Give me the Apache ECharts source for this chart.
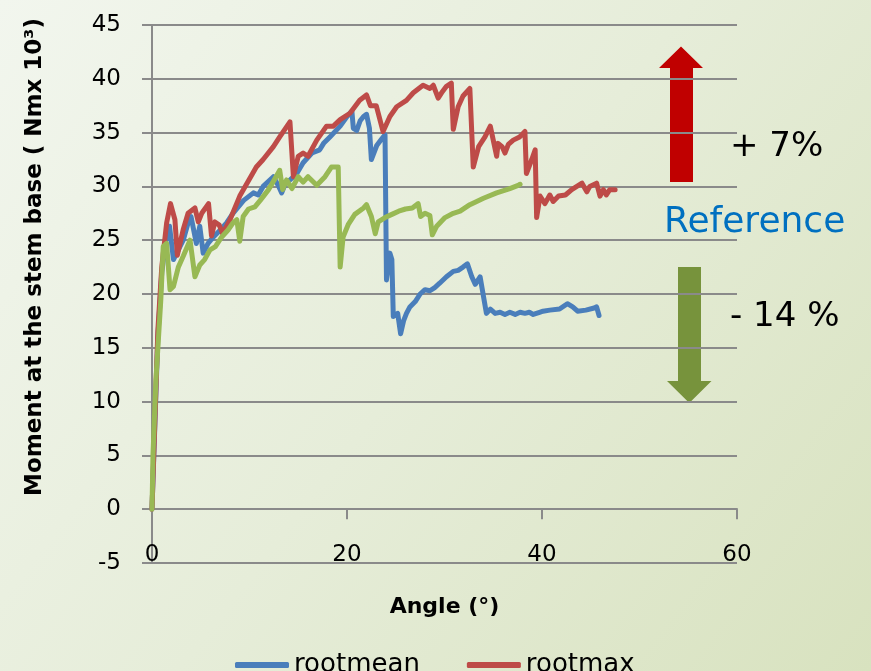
<!DOCTYPE html>
<html>
<head>
<meta charset="utf-8">
<script src="https://cdn.jsdelivr.net/npm/echarts@6/dist/echarts.min.js"></script>
<style>
html,body{margin:0;padding:0;background:#e8eedb;}
#chart{width:871px;height:671px;}
</style>
</head>
<body>
<div id="chart"></div>
<script>
// ---- data (angle in degrees, moment in Nm x 10^3) ----
const seriesNames = ['rootmean', 'rootmax', 'reference'];
const legendNames = ['rootmean', 'rootmax'];
const xTicks = [0, 20, 40, 60];
const yTicks = [-5, 0, 5, 10, 15, 20, 25, 30, 35, 40, 45];

const rootmean = [[0,0],[0.3,8],[0.6,16],[1.0,22],[1.5,25.5],[1.8,26.3],[2.2,23.2],[2.7,24.1],[3.2,25.0],[3.7,26.6],[4.0,27.2],[4.55,24.7],[4.9,26.3],[5.25,23.8],[5.75,24.7],[6.3,25.3],[7.0,25.95],[7.65,26.6],[8.3,27.5],[9.4,28.7],[10.4,29.4],[10.9,29.2],[11.4,30.0],[12.45,30.9],[13.0,30.0],[13.3,29.4],[13.65,30.2],[14.15,30.6],[14.85,31.2],[15.5,32.2],[16.4,33.1],[17.2,33.4],[17.6,34.0],[18.25,34.6],[19.3,35.6],[20.0,36.5],[20.5,37.0],[20.65,35.4],[21.0,35.2],[21.35,36.1],[21.7,36.5],[22.0,36.7],[22.3,35.4],[22.5,32.5],[23.05,33.8],[23.55,34.4],[23.9,34.8],[24.05,21.3],[24.4,23.8],[24.6,23.2],[24.75,17.9],[25.2,18.2],[25.5,16.3],[25.8,17.5],[26.1,18.2],[26.45,18.8],[27.0,19.3],[27.5,20.0],[28.0,20.4],[28.5,20.3],[29.0,20.6],[29.5,21.0],[30.2,21.6],[30.9,22.1],[31.4,22.2],[31.9,22.5],[32.35,22.8],[32.8,21.6],[33.15,20.9],[33.65,21.6],[34.3,18.2],[34.7,18.6],[35.2,18.2],[35.7,18.3],[36.2,18.1],[36.7,18.3],[37.25,18.1],[37.75,18.3],[38.25,18.2],[38.7,18.3],[39.1,18.1],[39.75,18.3],[40.1,18.4],[40.8,18.5],[41.8,18.6],[42.6,19.1],[43.15,18.8],[43.65,18.4],[44.5,18.5],[45.35,18.7],[45.6,18.8],[45.85,18.0]];

const rootmax = [[0,0],[0.3,8.3],[0.6,16.6],[1.0,22.5],[1.5,26.6],[1.9,28.4],[2.35,26.9],[2.6,23.6],[3.2,26.0],[3.7,27.5],[4.4,28.0],[4.75,26.7],[5.1,27.5],[5.8,28.4],[6.1,25.4],[6.45,26.7],[6.9,26.4],[7.25,25.6],[8.0,26.9],[9.0,29.1],[10.7,31.8],[11.4,32.5],[12.45,33.7],[13.1,34.6],[14.15,36.0],[14.5,30.9],[15.0,32.8],[15.5,33.1],[16.0,32.8],[16.9,34.3],[17.9,35.6],[18.6,35.6],[19.3,36.2],[20.3,36.8],[21.3,38.0],[22.0,38.5],[22.4,37.5],[23.0,37.5],[23.7,35.1],[24.4,36.5],[25.1,37.4],[26.1,38.0],[26.8,38.7],[27.8,39.4],[28.5,39.1],[28.85,39.4],[29.35,38.2],[29.7,38.7],[30.2,39.3],[30.7,39.6],[30.9,35.3],[31.4,37.4],[31.9,38.4],[32.6,39.1],[32.95,31.8],[33.5,33.7],[34.15,34.6],[34.7,35.6],[35.0,34.3],[35.35,32.8],[35.5,34.0],[35.9,33.7],[36.2,33.1],[36.55,33.9],[37.05,34.3],[37.7,34.6],[38.25,35.1],[38.4,31.2],[38.95,32.5],[39.3,33.4],[39.45,27.1],[39.8,29.1],[40.3,28.4],[40.8,29.2],[41.15,28.6],[41.7,29.1],[42.4,29.2],[43.05,29.7],[44.1,30.3],[44.6,29.5],[44.9,30.0],[45.6,30.3],[45.95,29.1],[46.3,29.7],[46.6,29.2],[46.95,29.7],[47.5,29.7]];

const reference = [[0,0],[0.1,5],[0.4,12],[0.9,19.4],[1.15,24.4],[1.5,24.7],[1.85,20.4],[2.2,20.7],[2.7,22.5],[3.2,23.5],[3.9,25.0],[4.4,21.6],[4.9,22.7],[5.4,23.2],[5.95,24.1],[6.5,24.4],[7.15,25.3],[7.8,25.95],[8.3,26.6],[8.7,26.9],[9.0,24.9],[9.35,27.2],[9.9,27.9],[10.55,28.1],[11.1,28.7],[11.95,29.7],[12.6,30.7],[13.1,31.5],[13.4,29.7],[13.8,30.6],[14.35,29.8],[15.0,30.9],[15.5,30.4],[16.0,30.9],[16.9,30.1],[17.75,30.9],[18.4,31.8],[19.1,31.8],[19.3,22.5],[19.6,25.3],[20.15,26.5],[20.8,27.4],[21.7,28.0],[22.0,28.3],[22.5,27.2],[22.9,25.6],[23.2,26.7],[23.9,27.1],[24.6,27.4],[25.3,27.7],[26.0,27.9],[26.7,28.0],[27.3,28.4],[27.55,27.2],[28.0,27.5],[28.5,27.3],[28.75,25.5],[29.2,26.3],[30.05,27.1],[30.9,27.5],[31.6,27.7],[32.6,28.3],[34.0,28.9],[35.35,29.4],[36.7,29.8],[37.55,30.1],[37.75,30.2]];

const colors = ['#4A7EBB', '#BE4B48', '#98B954'];
const FONT = 'DejaVu Sans';

const chart = echarts.init(document.getElementById('chart'), null, {renderer: 'canvas'});
const gridColor = '#8a8a8a';

const option = {
  animation: false,
  backgroundColor: {
    type: 'linear', x: 0, y: 0, x2: 1, y2: 1,
    colorStops: [
      {offset: 0, color: '#f2f6ee'},
      {offset: 0.5, color: '#e6edd9'},
      {offset: 1, color: '#d8e2bf'}
    ]
  },
  textStyle: {fontFamily: FONT},
  grid: {left: 152, right: 134, top: 25, bottom: 108, containLabel: false, outerBoundsMode: 'none'},
  legend: {
    data: legendNames,
    left: 230, top: 647,
    icon: 'roundRect',
    itemWidth: 54, itemHeight: 6,
    itemGap: 47,
    textStyle: {fontFamily: FONT, fontSize: 26, color: '#000'}
  },
  xAxis: [
    {
      type: 'value', min: xTicks[0], max: xTicks[xTicks.length - 1], interval: 20,
      axisLine: {show: true, onZero: true, lineStyle: {color: gridColor, width: 2}},
      axisTick: {show: true, length: 10, lineStyle: {color: gridColor, width: 2}},
      axisLabel: {show: false},
      splitLine: {show: false}
    },
    {
      type: 'value', position: 'bottom', min: xTicks[0], max: xTicks[xTicks.length - 1], interval: 20,
      axisLine: {show: false, onZero: false},
      axisTick: {show: false},
      axisLabel: {show: true, inside: true, margin: -4, fontSize: 23, color: '#000', fontFamily: FONT},
      splitLine: {show: false},
      name: 'Angle (°)', nameLocation: 'middle', nameGap: 33,
      nameTextStyle: {fontFamily: FONT, fontSize: 22, fontWeight: 'bold', color: '#000'}
    }
  ],
  yAxis: {
    type: 'value', min: yTicks[0], max: yTicks[yTicks.length - 1], interval: 5,
    axisLine: {show: true, onZero: false, lineStyle: {color: gridColor, width: 2}},
    axisTick: {show: true, length: 10, lineStyle: {color: gridColor, width: 2}},
    axisLabel: {margin: 31, fontSize: 23, color: '#000', fontFamily: FONT},
    splitLine: {show: true, lineStyle: {color: gridColor, width: 2}}
  },
  series: [
    {name: seriesNames[0], type: 'line', data: rootmean},
    {name: seriesNames[1], type: 'line', data: rootmax},
    {name: seriesNames[2], type: 'line', data: reference}
  ].map((s, i) => Object.assign(s, {
    xAxisIndex: 0,
    showSymbol: false, symbol: 'none', smooth: false,
    color: colors[i],
    lineStyle: {color: colors[i], width: 5, join: 'round', cap: 'round'},
    z: 3 + i
  })),
  graphic: [
    {type: 'text', x: 35, y: 257, rotation: Math.PI / 2,
     style: {text: 'Moment at the stem base ( Nmx 10³)', font: 'bold 23px "DejaVu Sans"', fill: '#000', align: 'center', verticalAlign: 'middle'}},
    {type: 'polygon', shape: {points: [[670,182],[670,68],[659,68],[681,46.5],[703,68],[693,68],[693,182]]}, style: {fill: '#C00000'}},
    {type: 'polygon', shape: {points: [[678,267],[701,267],[701,381],[711.5,381],[689.3,403],[667,381],[678,381]]}, style: {fill: '#77933C'}},
    {type: 'text', x: 730, y: 147, style: {text: '+ 7%', font: '34px "DejaVu Sans"', fill: '#000', align: 'left', verticalAlign: 'middle'}},
    {type: 'text', x: 664, y: 223, style: {text: 'Reference', font: '36px "DejaVu Sans"', fill: '#0070C0', align: 'left', verticalAlign: 'middle'}},
    {type: 'text', x: 730, y: 317, style: {text: '- 14 %', font: '34px "DejaVu Sans"', fill: '#000', align: 'left', verticalAlign: 'middle'}}
  ]
};
chart.setOption(option);
</script>
</body>
</html>
